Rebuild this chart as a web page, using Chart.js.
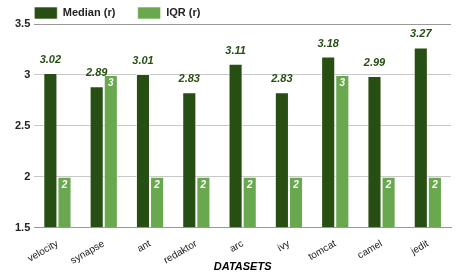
<!DOCTYPE html>
<html>
<head>
<meta charset="utf-8">
<script src="https://cdn.jsdelivr.net/npm/chart.js@4.4.1/dist/chart.umd.min.js"></script>
<style>
  html, body { margin: 0; padding: 0; background: #fff; }
  #wrap { width: 458px; height: 274px; }
</style>
</head>
<body>
<div id="wrap"><canvas id="grafico" width="458" height="274"></canvas></div>
<script>
// dados do gráfico
const datasets = ['velocity', 'synapse', 'ant', 'redaktor', 'arc', 'ivy', 'tomcat', 'camel', 'jedit'];
const mediana = [3.02, 2.89, 3.01, 2.83, 3.11, 2.83, 3.18, 2.99, 3.27];
const iqr = [2, 3, 2, 2, 2, 2, 3, 2, 2];
const ticksY = [1.5, 2, 2.5, 3, 3.5];

const corEscura = '#274e13';
const corClara = '#6aa84f';
const fonte = '"Liberation Sans", Arial, sans-serif';
const padLegenda = 7;

/* rótulos dos valores em cima / dentro das barras */
const rotulos = {
  id: 'rotulos',
  afterLayout(chart) {
    // legenda alinhada com a área do gráfico
    chart.legend.left = chart.chartArea.left - padLegenda;
  },
  afterDatasetsDraw(chart) {
    const ctx = chart.ctx;
    ctx.save();
    ctx.textAlign = 'center';
    chart.data.datasets.forEach((ds, i) => {
      const meta = chart.getDatasetMeta(i);
      meta.data.forEach((bar, j) => {
        const v = ds.data[j];
        if (i === 0) {
          ctx.font = 'italic bold 11px ' + fonte;
          ctx.fillStyle = corEscura;
          ctx.textBaseline = 'alphabetic';
          ctx.fillText(v.toFixed(2), bar.x, bar.y - 10);
        } else {
          ctx.font = 'italic bold 10px ' + fonte;
          ctx.fillStyle = '#fff';
          ctx.textBaseline = 'middle';
          ctx.fillText(String(v), bar.x, bar.y + 8);
        }
      });
    });
    ctx.restore();
  }
};

var ctx = document.getElementById('grafico');
var myChart = new Chart(ctx, {
  type: 'bar',
  data: {
    labels: datasets,
    datasets: [
      { label: 'Median (r)', data: mediana, backgroundColor: corEscura, borderColor: 'rgba(255,255,255,0.6)', borderWidth: 1, base: 1.5 },
      { label: 'IQR (r)', data: iqr, backgroundColor: corClara, borderColor: 'rgba(255,255,255,0.6)', borderWidth: 1, base: 1.5 }
    ]
  },
  options: {
    responsive: false,
    animation: false,
    devicePixelRatio: 1,
    layout: { padding: { left: 11, right: 7, top: 0, bottom: 0 } },
    datasets: { bar: { categoryPercentage: 0.61, barPercentage: 1 } },
    plugins: {
      legend: {
        position: 'top',
        align: 'start',
        maxHeight: 24,
        labels: {
          boxWidth: 23,
          boxHeight: 12,
          color: '#222',
          font: { family: fonte, size: 11, weight: 'bold' },
          padding: padLegenda,
          // espaço extra entre os itens da legenda
          generateLabels(chart) {
            const itens = Chart.defaults.plugins.legend.labels.generateLabels(chart);
            itens.forEach((it, i) => { if (i === 0) it.text = it.text + '     '; });
            return itens;
          }
        }
      },
      tooltip: { enabled: false }
    },
    scales: {
      x: {
        grid: { display: false },
        border: { color: '#999' },
        afterFit(scale) { scale.height -= 8; },
        ticks: {
          color: '#222',
          minRotation: 30,
          maxRotation: 30,
          padding: 2,
          font: { family: fonte, size: 10 }
        },
        title: {
          display: true,
          text: 'DATASETS',
          color: '#000',
          padding: { top: 0, bottom: 0 },
          font: { family: fonte, size: 11, weight: 'bold', style: 'italic' }
        }
      },
      y: {
        min: 1.5,
        max: 3.5,
        afterBuildTicks(axis) { axis.ticks = ticksY.map(v => ({ value: v })); },
        border: { display: false },
        grid: {
          drawTicks: false,
          color: c => (c.tick && (c.tick.value === 3.5 || c.tick.value === 1.5)) ? '#999' : '#c8c8c8'
        },
        ticks: {
          color: '#222',
          padding: 4,
          callback: v => String(v),
          font: { family: fonte, size: 11, weight: 'bold' }
        }
      }
    }
  },
  plugins: [rotulos]
});
</script>
</body>
</html>
